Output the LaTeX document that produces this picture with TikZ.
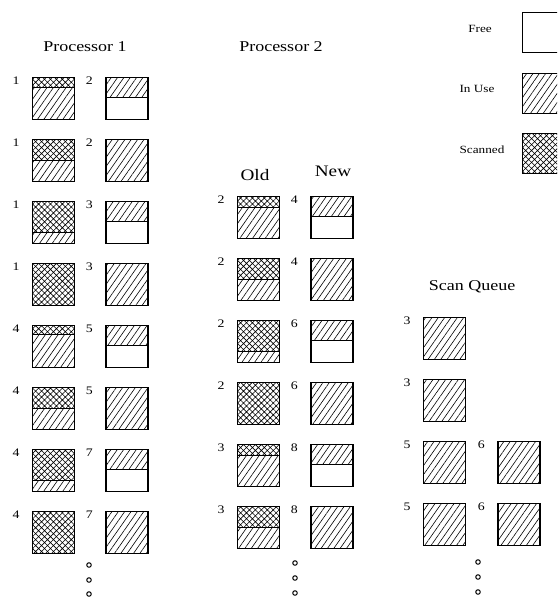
\documentclass[tikz,border=0pt]{standalone}
\usepackage{fontspec}
\setmainfont{Liberation Serif}[FakeStretch=1.2]
\usetikzlibrary{positioning, patterns.meta}

\begin{document}
\begin{tikzpicture}[
  x=1pt, y=-1pt,
  every node/.style={inner sep=0pt},
  title/.style={font=\fontsize{15}{18}\selectfont},
  key/.style={font=\fontsize{11}{12}\selectfont},
  uselines/.style={pattern={Lines[angle=55,distance=5.2pt,line width=0.6pt]}},
  xhatch/.style={pattern={Hatch[angle=45,distance=4.2pt,line width=0.6pt]}},
  cell/.style={draw, line width=1.3pt, minimum width=42pt, minimum height=42pt,
               anchor=north west},
  free/.style={cell},
  used/.style={cell, uselines},
  scanned/.style={cell, xhatch},
  half/.style={cell, path picture={
      \fill[uselines] (path picture bounding box.north west)
        rectangle ([yshift=-20pt]path picture bounding box.north east);
      \draw[line width=1.1pt] ([yshift=-20pt]path picture bounding box.north west)
        -- ([yshift=-20pt]path picture bounding box.north east);}},
  part/.style={cell, uselines, path picture={
      \fill[white] (path picture bounding box.north west)
        rectangle ([yshift=-#1]path picture bounding box.north east);
      \fill[xhatch] (path picture bounding box.north west)
        rectangle ([yshift=-#1]path picture bounding box.north east);
      \draw[line width=1.1pt] ([yshift=-#1]path picture bounding box.north west)
        -- ([yshift=-#1]path picture bounding box.north east);}},
  num/.style={label={[font=\fontsize{11.5}{13}\selectfont, anchor=center,
                      xshift=-16pt, yshift=-4pt]north west:#1}},
  cont/.style={draw, circle, line width=1pt, minimum size=4.5pt},
]
\useasboundingbox (0,0) rectangle (557,599);
\clip (0,0) rectangle (557,599);

% legend
\node[key] (kfree) at (480,29)  {Free};
\node[key] (kuse)  at (477,89)  {In Use};
\node[key] (kscan) at (482,150) {Scanned};
\node[free, minimum height=40pt]    (lfree) at (522,12)  {};
\node[used, minimum height=40pt]    (luse)  at (522,73)  {};
\node[scanned, minimum height=40pt] (lscan) at (522,133) {};

% processor 1
\node[title] (t1) at (85,47) {Processor 1};
\node[part=10pt, num=1] (p1a1) at (32,77) {};
\node[part=21pt, num=1] (p1a2) [below=18.7pt of p1a1] {};
\node[part=31pt, num=1] (p1a3) [below=18.7pt of p1a2] {};
\node[scanned, num=1]   (p1a4) [below=18.7pt of p1a3] {};
\node[part=9pt, num=4]  (p1a5) [below=18.7pt of p1a4] {};
\node[part=21pt, num=4] (p1a6) [below=18.7pt of p1a5] {};
\node[part=31pt, num=4] (p1a7) [below=18.7pt of p1a6] {};
\node[scanned, num=4]   (p1a8) [below=18.7pt of p1a7] {};
\node[half, num=2] (p1b1) [right=30pt of p1a1] {};
\node[used, num=2] (p1b2) [right=30pt of p1a2] {};
\node[half, num=3] (p1b3) [right=30pt of p1a3] {};
\node[used, num=3] (p1b4) [right=30pt of p1a4] {};
\node[half, num=5] (p1b5) [right=30pt of p1a5] {};
\node[used, num=5] (p1b6) [right=30pt of p1a6] {};
\node[half, num=7] (p1b7) [right=30pt of p1a7] {};
\node[used, num=7] (p1b8) [right=30pt of p1a8] {};

% processor 2
\node[title] (t2) at (281,47) {Processor 2};
\node[title, font=\fontsize{16}{18}\selectfont] (old) at (255,175) {Old};
\node[title, font=\fontsize{16}{18}\selectfont] (new) at (333,171) {New};
\node[part=11pt, num=2] (p2a3) at (237,196) {};
\node[part=21pt, num=2] (p2a4) [below=18.7pt of p2a3] {};
\node[part=31pt, num=2] (p2a5) [below=18.7pt of p2a4] {};
\node[scanned, num=2]   (p2a6) [below=18.7pt of p2a5] {};
\node[part=11pt, num=3] (p2a7) [below=18.7pt of p2a6] {};
\node[part=21pt, num=3] (p2a8) [below=18.7pt of p2a7] {};
\node[half, num=4] (p2b3) [right=30pt of p2a3] {};
\node[used, num=4] (p2b4) [right=30pt of p2a4] {};
\node[half, num=6] (p2b5) [right=30pt of p2a5] {};
\node[used, num=6] (p2b6) [right=30pt of p2a6] {};
\node[half, num=8] (p2b7) [right=30pt of p2a7] {};
\node[used, num=8] (p2b8) [right=30pt of p2a8] {};

% scan queue
\node[title] (t3) at (472,287) {Scan Queue};
\node[used, num=3] (sqa5) at (423,317) {};
\node[used, num=3] (sqa6) [below=18.7pt of sqa5] {};
\node[used, num=5] (sqa7) [below=18.7pt of sqa6] {};
\node[used, num=5] (sqa8) [below=18.7pt of sqa7] {};
\node[used, num=6] (sqb7) [right=31pt of sqa7] {};
\node[used, num=6] (sqb8) [right=31pt of sqa8] {};

% and so on
\node[cont] (c1a) at (89,565) {};
\node[cont] (c1b) at (89,580) {};
\node[cont] (c1c) at (89,594) {};
\node[cont] (c2a) at (295,563) {};
\node[cont] (c2b) at (295,578) {};
\node[cont] (c2c) at (295,593) {};
\node[cont] (c3a) at (478,562) {};
\node[cont] (c3b) at (478,577) {};
\node[cont] (c3c) at (478,592) {};
\end{tikzpicture}
\end{document}
